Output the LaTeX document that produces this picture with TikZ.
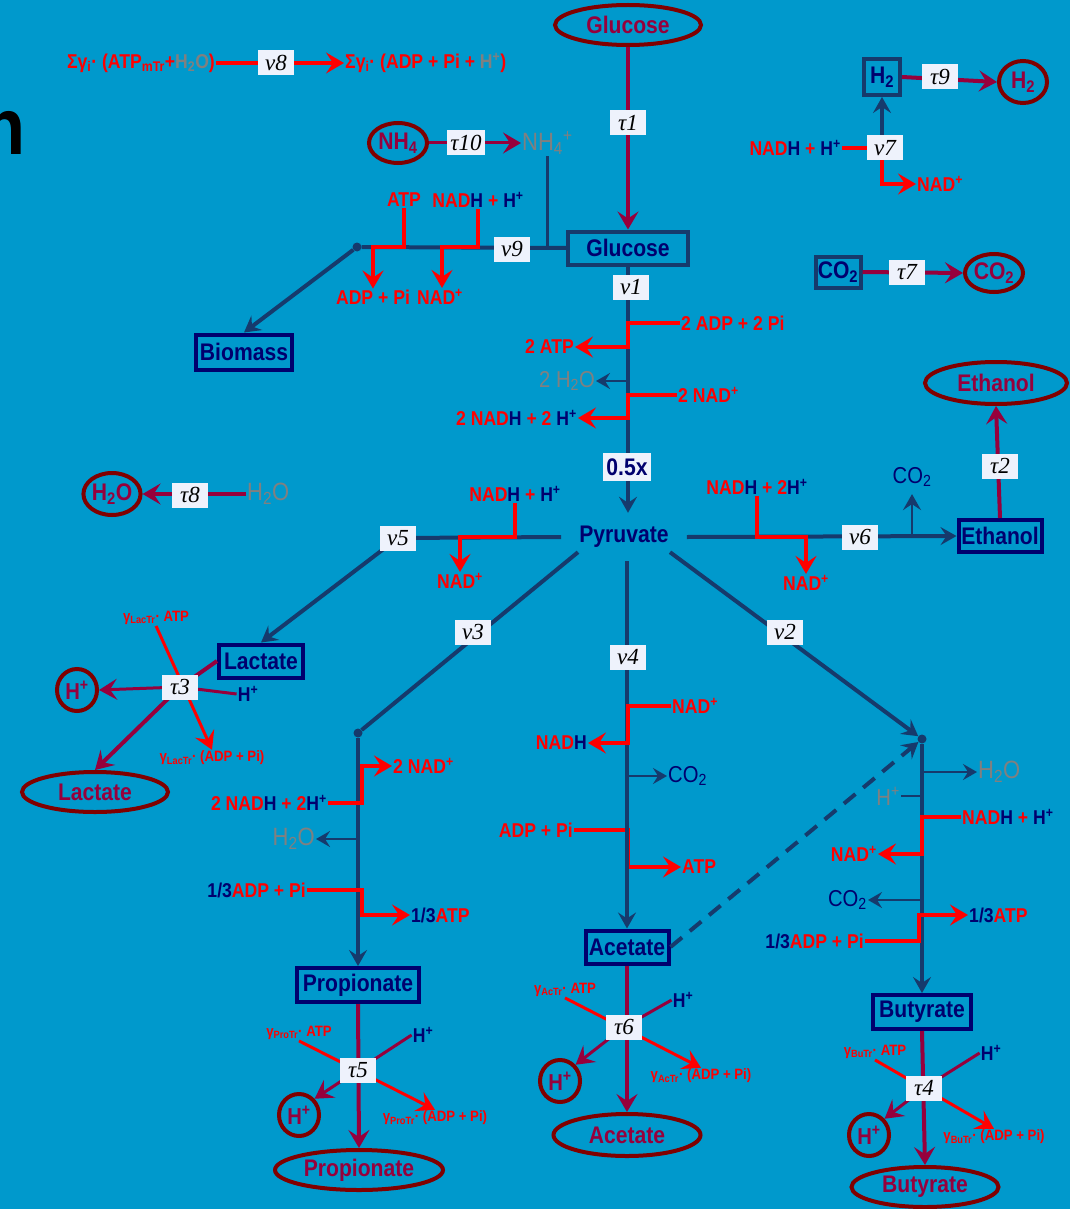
\documentclass[tikz,border=0pt]{standalone}
\usepackage{fontspec}
\setmainfont{Liberation Sans}[FakeStretch=0.88]
\newfontfamily\serifit{Liberation Serif}
\usetikzlibrary{arrows.meta,shapes.geometric}
\definecolor{bg}{RGB}{0,153,204}
\definecolor{navy}{RGB}{22,58,108}
\definecolor{ink}{RGB}{0,0,110}
\definecolor{crim}{RGB}{150,0,60}
\definecolor{maroon}{RGB}{128,0,0}
\definecolor{gry}{RGB}{128,128,128}
\definecolor{lbl}{RGB}{238,242,252}
\newcommand\fbig{\bfseries\fontsize{24}{24}\selectfont}
\newcommand\fgray{\fontsize{25}{25}\selectfont}
\newcommand\fmid{\fontsize{23}{23}\selectfont}
\newcommand\frx{\bfseries\fontsize{20}{20}\selectfont}
\newcommand\fsm{\bfseries\fontsize{15}{15}\selectfont}
\newcommand\frate{\serifit\itshape\fontsize{23}{23}\selectfont}
\newcommand\inkt[1]{\textcolor{ink}{#1}}
\newcommand\grayt[1]{\textcolor{gry}{#1}}
\tikzset{
  mline/.style={draw=navy,line width=4pt},
  sline/.style={draw=navy,line width=2.5pt},
  rline/.style={draw=red,line width=3.5pt},
  rthin/.style={draw=red,line width=3pt},
  tline/.style={draw=crim,line width=4pt},
  tthin/.style={draw=crim,line width=3pt},
  narr/.style={-{Stealth[length=16pt,width=18pt,inset=6pt]}},
  sarr/.style={-{Stealth[length=14pt,width=16pt,inset=5pt]}},
  rarr/.style={-{Stealth[length=18pt,width=21pt,inset=7pt]}},
  metab/.style={rectangle,draw=ink,line width=4pt,text=ink,font=\fbig,inner sep=0pt},
  pool/.style={ellipse,draw=maroon,line width=4pt,text=crim,font=\fbig,inner sep=0pt},
  hpool/.style={pool,font=\bfseries\fmid,minimum width=40pt,minimum height=42pt},
  rate/.style={fill=lbl,inner xsep=3pt,inner ysep=0pt,minimum width=36pt,minimum height=25pt,font=\frate},
  rtx/.style={text=red,font=\frx,inner sep=1pt},
  stx/.style={text=red,font=\fsm,inner sep=1pt},
  gtx/.style={text=gry,font=\fgray,inner sep=1pt},
  ntx/.style={text=ink,font=\fmid,inner sep=1pt},
  dot/.style={circle,fill=navy,inner sep=0pt,minimum size=9pt},
}
\begin{document}
\begin{tikzpicture}[x=1pt,y=-1pt]
\fill[bg] (0,0) rectangle (1070,1209);
\useasboundingbox (0,0) rectangle (1070,1209);

% heading fragment at the left edge
\node[font=\bfseries\fontsize{80}{80}\selectfont,text=black,inner sep=0pt,anchor=base east] (head) at (26,155) {n};

% external pools
\node[pool,minimum width=146pt,minimum height=40pt] (gluE) at (628,25) {Glucose};
\node[pool,minimum width=58pt,minimum height=40pt] (nh4E) at (398,143) {NH\textsubscript{4}};
\node[pool,minimum width=48pt,minimum height=42pt] (h2E) at (1023,82) {H\textsubscript{2}};
\node[pool,minimum width=58pt,minimum height=38pt] (co2E) at (994,273) {CO\textsubscript{2}};
\node[pool,minimum width=142pt,minimum height=42pt] (ethE) at (996,383) {Ethanol};
\node[pool,minimum width=56pt,minimum height=42pt] (h2oE) at (112,494) {H\textsubscript{2}O};
\node[pool,minimum width=146pt,minimum height=40pt] (lacE) at (95,792) {Lactate};
\node[pool,minimum width=168pt,minimum height=40pt] (proE) at (359,1170) {Propionate};
\node[pool,minimum width=147pt,minimum height=42pt] (aceE) at (627,1135) {Acetate};
\node[pool,minimum width=147pt,minimum height=40pt] (butE) at (925,1187) {Butyrate};
\node[hpool] (hLac) at (77,690) {H\textsuperscript{+}};
\node[hpool] (hcP) at (299,1115) {H\textsuperscript{+}};
\node[hpool] (hcA) at (560,1081) {H\textsuperscript{+}};
\node[hpool] (hcB) at (869,1135) {H\textsuperscript{+}};

% intracellular metabolites
\node[metab,draw=navy,minimum width=120pt,minimum height=33pt] (gluB) at (628,248) {Glucose};
\node[metab,minimum width=96pt,minimum height=35pt] (bioB) at (244,352) {Biomass};
\node[metab,draw=navy,minimum width=36pt,minimum height=36pt] (h2B) at (882,77) {H\textsubscript{2}};
\node[metab,draw=navy,minimum width=45pt,minimum height=31pt] (co2B) at (838,272) {CO\textsubscript{2}};
\node[metab,minimum width=83pt,minimum height=32pt] (ethB) at (1000,536) {Ethanol};
\node[metab,minimum width=84pt,minimum height=33pt] (lacB) at (261,661) {Lactate};
\node[metab,minimum width=122pt,minimum height=34pt] (proB) at (358,985) {Propionate};
\node[metab,minimum width=83pt,minimum height=33pt] (aceB) at (627,947) {Acetate};
\node[metab,minimum width=98pt,minimum height=34pt] (butB) at (922,1012) {Butyrate};
\node[font=\fbig,text=ink,inner xsep=18pt,inner ysep=0pt,minimum height=48pt] (pyr) at (624,537) {Pyruvate};

% branch points
\node[dot] (d9) at (357,247) {};
\node[dot] (d3) at (358,733) {};
\node[dot] (d2) at (922,739) {};
\coordinate (r3) at ([xshift=4pt]d3);
\coordinate (r4) at ([xshift=1pt]aceB.north);
\coordinate (r2) at ([xshift=-3pt]d2);

% co-substrates and co-products
\node[rtx,anchor=east] (s8a) at (216,63) {Σγ\textsubscript{i}· (ATP\textsubscript{mTr}+\grayt{H\textsubscript{2}O})};
\node[rtx,anchor=west] (s8b) at (344,63) {Σγ\textsubscript{i}· (ADP + Pi + \grayt{H\textsuperscript{+}})};
\node[gtx,anchor=west] (nh4p) at (521,143) {NH\textsubscript{4}\textsuperscript{+}};
\node[rtx] (atp9) at (404,200) {ATP};
\node[rtx] (nadh9) at (478,200) {NAD\inkt{H} + \inkt{H\textsuperscript{+}}};
\node[rtx] (adp9) at (373,297) {ADP + Pi};
\node[rtx] (nad9) at (440,297) {NAD\textsuperscript{+}};
\node[gtx,anchor=west] (h2og) at (246,494) {H\textsubscript{2}O};
\node[rtx,anchor=west] (adp1) at (680,323) {2 ADP + 2 Pi};
\node[rtx,anchor=east] (atp1) at (575,347) {2 ATP};
\node[gtx,font=\fmid,anchor=east] (h2o1) at (596,381) {2 H\textsubscript{2}O};
\node[rtx,anchor=west] (nad1) at (677,395) {2 NAD\textsuperscript{+}};
\node[rtx,anchor=east] (nadh1) at (578,418) {2 NAD\inkt{H} + 2 \inkt{H\textsuperscript{+}}};
\node[rtx] (nadh5) at (515,494) {NAD\inkt{H} + \inkt{H\textsuperscript{+}}};
\node[rtx] (nad5) at (460,581) {NAD\textsuperscript{+}};
\node[rtx] (nadh6) at (757,487) {NAD\inkt{H} + 2\inkt{H\textsuperscript{+}}};
\node[rtx] (nad6) at (806,583) {NAD\textsuperscript{+}};
\node[ntx] (co2v6) at (912,477) {CO\textsubscript{2}};
\node[rtx,anchor=east] (nadh7) at (842,148) {NAD\inkt{H} + \inkt{H\textsuperscript{+}}};
\node[rtx,anchor=west] (nad7) at (916,184) {NAD\textsuperscript{+}};
\node[stx] (atpL) at (156,618) {γ\textsubscript{LacTr}· ATP};
\node[stx] (adpL) at (212,758) {γ\textsubscript{LacTr}· (ADP + Pi)};
\node[ntx,font=\frx] (hnav3) at (248,694) {H\textsuperscript{+}};
\node[rtx,anchor=east] (nadh3) at (328,803) {2 NAD\inkt{H} + 2\inkt{H\textsuperscript{+}}};
\node[rtx,anchor=west] (nad3) at (392,766) {2 NAD\textsuperscript{+}};
\node[gtx,anchor=east] (h2o3) at (316,839) {H\textsubscript{2}O};
\node[rtx,anchor=east] (adp3) at (307,890) {\inkt{1/3}ADP + Pi};
\node[rtx,anchor=west] (atp3) at (410,915) {\inkt{1/3}ATP};
\node[rtx,anchor=west] (nad4) at (671,706) {NAD\textsuperscript{+}};
\node[rtx,anchor=east] (nadh4) at (588,743) {NAD\inkt{H}};
\node[ntx,anchor=west] (co24) at (667,776) {CO\textsubscript{2}};
\node[rtx,anchor=east] (adp4) at (574,830) {ADP + Pi};
\node[rtx,anchor=west] (atp4) at (681,867) {ATP};
\node[gtx,anchor=west] (h2o2) at (977,772) {H\textsubscript{2}O};
\node[gtx,font=\fmid,anchor=east] (hg2) at (901,796) {H\textsuperscript{+}};
\node[rtx,anchor=west] (nadh2) at (961,817) {NAD\inkt{H} + \inkt{H\textsuperscript{+}}};
\node[rtx,anchor=east] (nad2) at (878,854) {NAD\textsuperscript{+}};
\node[ntx,anchor=east] (co22) at (868,900) {CO\textsubscript{2}};
\node[rtx,anchor=west] (atp2) at (968,915) {\inkt{1/3}ATP};
\node[rtx,anchor=east] (adp2) at (865,941) {\inkt{1/3}ADP + Pi};
\node[stx] (atpP) at (299,1033) {γ\textsubscript{ProTr}· ATP};
\node[stx] (adpP) at (435,1118) {γ\textsubscript{ProTr}· (ADP + Pi)};
\node[ntx,font=\frx] (hP) at (423,1035) {H\textsuperscript{+}};
\node[stx] (atpA) at (565,990) {γ\textsubscript{AcTr}· ATP};
\node[stx] (adpA) at (701,1076) {γ\textsubscript{AcTr}· (ADP + Pi)};
\node[ntx,font=\frx] (hA) at (683,1000) {H\textsuperscript{+}};
\node[stx] (atpB) at (875,1052) {γ\textsubscript{BuTr}· ATP};
\node[stx] (adpB) at (994,1137) {γ\textsubscript{BuTr}· (ADP + Pi)};
\node[ntx,font=\frx] (hB) at (991,1053) {H\textsuperscript{+}};

% rate label positions
\coordinate (ct1) at (628,123);
\coordinate (cv1) at (631,287);
\coordinate (cv9) at (512,249);
\coordinate (ct10) at (466,143);
\coordinate (cv8) at (276,63);
\coordinate (ct9) at (940,77);
\coordinate (cv7) at (885,148);
\coordinate (ct7) at (907,272);
\coordinate (ct2) at (1000,466);
\coordinate (ct8) at (190,495);
\coordinate (cv5) at (398,538);
\coordinate (cv6) at (860,537);
\coordinate (cv3) at (473,632);
\coordinate (cv4) at (628,657);
\coordinate (cv2) at (785,632);
\coordinate (ct3) at (180,687);
\coordinate (ct5) at (358,1070);
\coordinate (ct6) at (624,1027);
\coordinate (ct4) at (924,1088);
\coordinate (cx) at (627,467);

% acetate kinase step (under the main line)
\draw[rline,rarr] (adp4.east) -- (r4 |- adp4.east) -- (r4 |- atp4.west) -- (atp4.west);

% main fluxes
\draw[mline,narr] (gluB.south) -- (gluB.south |- pyr.north);
\draw[mline] (gluB.west) -- (d9);
\draw[mline,narr] (d9) -- (bioB.north);
\draw[sline] (nh4p.south |- gluB.west) -- (nh4p.south);
\draw[mline,narr] (pyr.west) -- (cv5) -- (lacB.north);
\draw[mline,narr] (pyr.east) -- (ethB.west);
\draw[sline,narr,shorten >=6pt] (co2v6.south |- pyr.east) -- (co2v6.south);
\draw[mline] ([shift={(-46,-9)}]pyr.south) -- (d3);
\draw[mline,narr] (d3) -- (proB.north);
\draw[mline,narr] (aceB.north |- pyr.south) -- (aceB.north);
\draw[mline,narr] ([shift={(46,-9)}]pyr.south) -- (d2);
\draw[mline,narr] (d2) -- (butB.north);
\draw[mline,narr,dash pattern=on 15pt off 10pt] (aceB.east) -- (d2);
\draw[mline,narr] (h2B.south |- nadh7.east) -- (h2B.south);

% side products on the main lines
\draw[sline,sarr] (gluB.south |- h2o1.east) -- (h2o1.east);
\draw[sline,sarr] (d3 |- h2o3.east) -- (h2o3.east);
\draw[sline,sarr] (aceB.north |- co24.west) -- (co24.west);
\draw[sline,sarr] (d2 |- h2o2.west) -- (h2o2.west);
\draw[sline] (hg2.east) -- (d2 |- hg2.east);
\draw[sline,sarr] (d2 |- co22.east) -- (co22.east);

% transport fluxes
\draw[tline,rarr] (gluE.south) -- (gluB.north);
\draw[tthin,rarr] (nh4E.east) -- (nh4p.west);
\draw[tline,rarr] (h2B.east) -- (h2E.west);
\draw[tline,rarr] (co2B.east) -- (co2E.west);
\draw[tline,rarr] (ethB.north) -- (ethE.south);
\draw[tline,rarr] (h2og.west) -- (h2oE.east);
\draw[tline,rarr] (lacB.west) -- (ct3) -- (lacE.north);
\draw[tthin,rarr] (hnav3.west) -- (ct3) -- (hLac.east);
\draw[tline,rarr] (proB.south) -- (proE.north);
\draw[tthin,rarr] (hP.west) -- (ct5) -- (hcP.north east);
\draw[tline,rarr] (aceB.south) -- (aceE.north);
\draw[tthin,rarr] (hA.west) -- (ct6) -- (hcA.north east);
\draw[tline,rarr] (butB.south) -- (butE.north);
\draw[tthin,rarr] (hB.west) -- (ct4) -- (hcB.north east);

% energy and redox couplings
\draw[rline,rarr] (s8a.east) -- (s8b.west);
\draw[rline,rarr] (atp9.south) -- (atp9.south |- d9) -| (adp9.north);
\draw[rline,rarr] (nadh9.south) -- (nadh9.south |- d9) -| ([xshift=2pt]nad9.north);
\draw[rline,rarr] (adp1.west) -| (gluB.south |- atp1.east) -- (atp1.east);
\draw[rline,rarr] (nad1.west) -| (gluB.south |- nadh1.east) -- (nadh1.east);
\draw[rline,rarr] (nadh5.south) -- (nadh5.south |- pyr.west) -| (nad5.north);
\draw[rline,rarr] (nadh6.south) -- (nadh6.south |- pyr.east) -| (nad6.north);
\draw[rline,rarr] (nadh7.east) -- (h2B.south |- nadh7.east) -- (h2B.south |- nad7.west) -- (nad7.west);
\draw[rthin,rarr] (atpL.south) -- (adpL.north);
\draw[rline,rarr] (nadh3.east) -- (r3 |- nadh3.east) -- (r3 |- nad3.west) -- (nad3.west);
\draw[rline,rarr] (adp3.east) -- (r3 |- adp3.east) -- (r3 |- atp3.west) -- (atp3.west);
\draw[rline,rarr] (nad4.west) -- (r4 |- nad4.west) -- (r4 |- nadh4.east) -- (nadh4.east);
\draw[rline,rarr] (nadh2.west) -- (d2 |- nadh2.west) -- (d2 |- nad2.east) -- (nad2.east);
\draw[rline,rarr] (adp2.east) -- (r2 |- adp2.east) -- (r2 |- atp2.west) -- (atp2.west);
\draw[rthin,rarr] (atpP.south) -- (adpP.north);
\draw[rthin,rarr] (atpA.south) -- (adpA.north);
\draw[rthin,rarr] (atpB.south) -- (adpB.north);

% rate labels
\node[rate] (t1) at (ct1) {τ1};
\node[rate] (v1) at (cv1) {ν1};
\node[rate] (v9) at (cv9) {ν9};
\node[rate] (t10) at (ct10) {τ10};
\node[rate] (v8) at (cv8) {ν8};
\node[rate] (t9) at (ct9) {τ9};
\node[rate] (v7) at (cv7) {ν7};
\node[rate] (t7) at (ct7) {τ7};
\node[rate] (t2) at (ct2) {τ2};
\node[rate] (t8) at (ct8) {τ8};
\node[rate] (v5) at (cv5) {ν5};
\node[rate] (v6) at (cv6) {ν6};
\node[rate] (v3) at (cv3) {ν3};
\node[rate] (v4) at (cv4) {ν4};
\node[rate] (v2) at (cv2) {ν2};
\node[rate] (t3) at (ct3) {τ3};
\node[rate] (t5) at (ct5) {τ5};
\node[rate] (t6) at (ct6) {τ6};
\node[rate] (t4) at (ct4) {τ4};
\node[rate,font=\fbig,text=ink,minimum height=28pt] (half) at (cx) {0.5x};
\end{tikzpicture}
\end{document}
